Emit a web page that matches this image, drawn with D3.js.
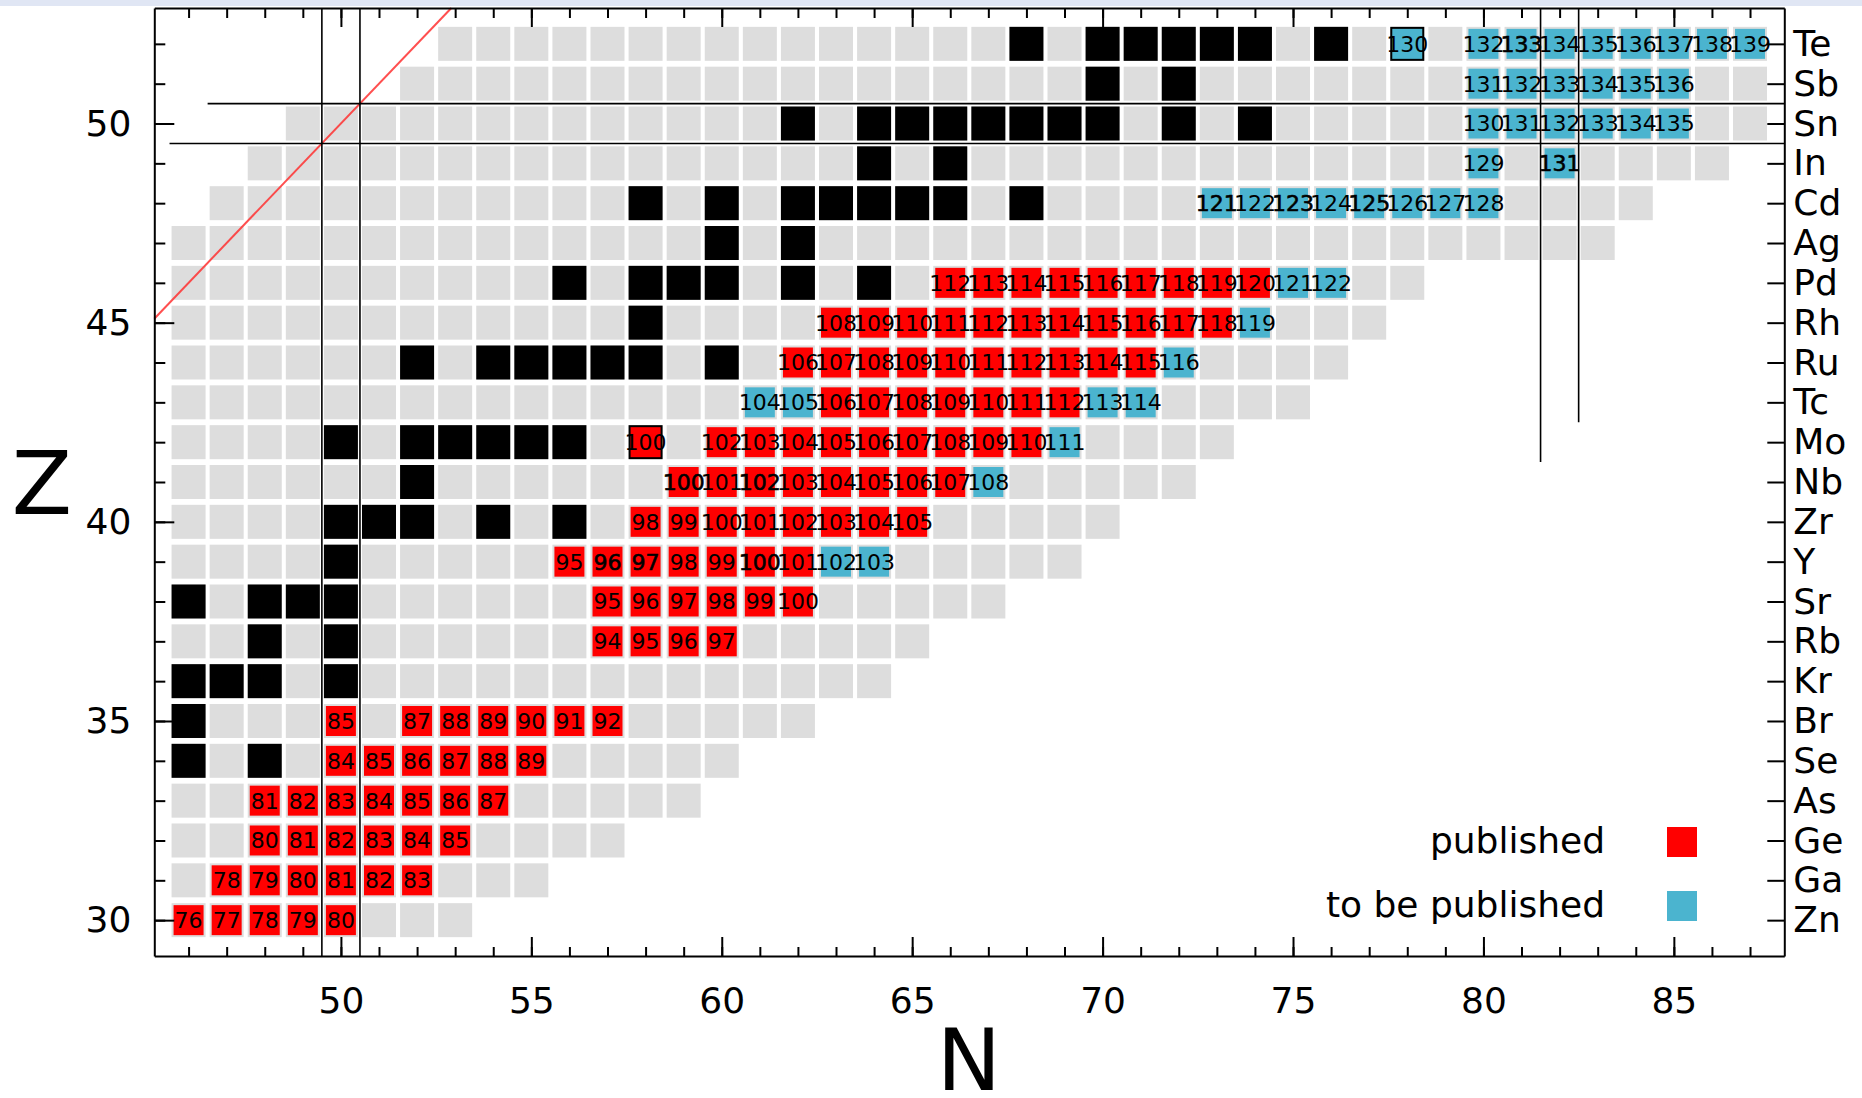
<!DOCTYPE html>
<html>
<head>
<meta charset="utf-8">
<title>Nuclide chart Z 30-52</title>
<script src="https://cdn.jsdelivr.net/npm/d3@7"></script>
<style>
  body { margin: 0; background: #fff; }
  svg { display: block; font-family: "DejaVu Sans", sans-serif; }
</style>
</head>
<body>
<svg></svg>
<script>
// element symbols for Z = 30 ... 52
const elements = ["Zn", "Ga", "Ge", "As", "Se", "Br", "Kr", "Rb", "Sr", "Y", "Zr",
  "Nb", "Mo", "Tc", "Ru", "Rh", "Pd", "Ag", "Cd", "In", "Sn", "Sb", "Te"];
const firstZ = 30;

// known nuclides: first and last N for every row
const firstN = [46, 46, 46, 46, 46, 46, 46, 46, 46, 46, 46, 46, 46, 46, 46, 46, 46, 46, 47, 48, 49, 52, 53];
const lastN = [53, 55, 57, 59, 60, 62, 64, 65, 67, 69, 70, 72, 73, 75, 76, 77, 78, 83, 84, 86, 87, 87, 87];

// stable isotopes [Z, mass numbers]
const stable = [
  [34, [80, 82]],
  [35, [81]],
  [36, [82, 83, 84, 86]],
  [37, [85, 87]],
  [38, [84, 86, 87, 88]],
  [39, [89]],
  [40, [90, 91, 92, 94, 96]],
  [41, [93]],
  [42, [92, 94, 95, 96, 97, 98, 100]],
  [44, [96, 98, 99, 100, 101, 102, 104]],
  [45, [103]],
  [46, [102, 104, 105, 106, 108, 110]],
  [47, [107, 109]],
  [48, [106, 108, 110, 111, 112, 113, 114, 116]],
  [49, [113, 115]],
  [50, [112, 114, 115, 116, 117, 118, 119, 120, 122, 124]],
  [51, [121, 123]],
  [52, [120, 122, 123, 124, 125, 126, 128, 130]],
];

// published [Z, mass numbers]
const published = [
  [30, [76, 77, 78, 79, 80]],
  [31, [78, 79, 80, 81, 82, 83]],
  [32, [80, 81, 82, 83, 84, 85]],
  [33, [81, 82, 83, 84, 85, 86, 87]],
  [34, [84, 85, 86, 87, 88, 89]],
  [35, [85, 87, 88, 89, 90, 91, 92]],
  [37, [94, 95, 96, 97]],
  [38, [95, 96, 97, 98, 99, 100]],
  [39, [95, 96, 97, 98, 99, 100, 101]],
  [40, [98, 99, 100, 101, 102, 103, 104, 105]],
  [41, [100, 101, 102, 103, 104, 105, 106, 107]],
  [42, [100, 102, 103, 104, 105, 106, 107, 108, 109, 110]],
  [43, [106, 107, 108, 109, 110, 111, 112]],
  [44, [106, 107, 108, 109, 110, 111, 112, 113, 114, 115]],
  [45, [108, 109, 110, 111, 112, 113, 114, 115, 116, 117, 118]],
  [46, [112, 113, 114, 115, 116, 117, 118, 119, 120]],
];

// to be published [Z, mass numbers]
const toBePublished = [
  [39, [102, 103]],
  [41, [108]],
  [42, [111]],
  [43, [104, 105, 113, 114]],
  [44, [116]],
  [45, [119]],
  [46, [121, 122]],
  [48, [121, 122, 123, 124, 125, 126, 127, 128]],
  [49, [129, 131]],
  [50, [130, 131, 132, 133, 134, 135]],
  [51, [131, 132, 133, 134, 135, 136]],
  [52, [130, 132, 133, 134, 135, 136, 137, 138, 139]],
];

// labels that are printed twice in the original (look heavier)
const doubledLabels = [[39, 96], [39, 97], [39, 100], [41, 100], [41, 102],
  [48, 121], [48, 123], [48, 125], [49, 131], [52, 133]];

const xTicks = [50, 55, 60, 65, 70, 75, 80, 85];
const yTicks = [30, 35, 40, 45, 50];
const legendLabels = ["published", "to be published"];
const legendColors = ["#ff0000", "#4bb4cf"];

// shell closures, [N1, Z1, N2, Z2]
const magicLines = [
  [49.5, 29.1, 49.5, 52.9],
  [50.5, 29.1, 50.5, 52.9],
  [45.5, 49.5, 87.9, 49.5],
  [46.5, 50.5, 87.9, 50.5],
  [81.5, 41.5, 81.5, 52.9],
  [82.5, 42.5, 82.5, 52.9],
];

const width = 1862;
const height = 1098;
const svg = d3.select("svg").attr("width", width).attr("height", height);

const x = d3.scaleLinear().domain([45.1, 87.9]).range([154.3, 1784.3]);
const y = d3.scaleLinear().domain([29.1, 52.9]).range([956, 8]);

const toCells = (list) =>
  list.flatMap(([z, masses]) => masses.map((a) => ({ z: z, a: a, n: a - z })));

const greyCells = elements.flatMap((el, i) =>
  d3.range(firstN[i], lastN[i] + 1).map((n) => ({ z: firstZ + i, n: n }))
);
const stableCells = toCells(stable);
const redCells = toCells(published);
const blueCells = toCells(toBePublished);

// screenshot band at the very top
svg.append("rect").attr("x", 0).attr("y", 0).attr("width", width).attr("height", 6).attr("fill", "#e0e6f4");

const drawSquares = (cells, size, color) => {
  svg
    .append("g")
    .selectAll("rect")
    .data(cells)
    .join("rect")
    .attr("x", (d) => x(d.n) - size / 2)
    .attr("y", (d) => y(d.z) - size / 2)
    .attr("width", size)
    .attr("height", size)
    .attr("fill", color);
};

drawSquares(greyCells, 34, "#dddddd");
drawSquares(stableCells, 34, "#000000");
drawSquares(redCells, 30, "#ff0000");
drawSquares(blueCells, 30, "#4bb4cf");

// N = Z line
svg
  .append("line")
  .attr("x1", x(45.1))
  .attr("y1", y(45.1))
  .attr("x2", x(52.9))
  .attr("y2", y(52.9))
  .attr("stroke", "#ff3030")
  .attr("stroke-opacity", 0.85)
  .attr("stroke-width", 2);

svg
  .append("g")
  .selectAll("line")
  .data(magicLines)
  .join("line")
  .attr("x1", (d) => x(d[0]))
  .attr("y1", (d) => y(d[1]))
  .attr("x2", (d) => x(d[2]))
  .attr("y2", (d) => y(d[3]))
  .attr("stroke", "#000")
  .attr("stroke-width", 1.6);

// mass number labels
const isDoubled = (d) => doubledLabels.some(([z, a]) => z === d.z && a === d.a);
svg
  .append("g")
  .selectAll("text")
  .data(redCells.concat(blueCells))
  .join("text")
  .attr("x", (d) => x(d.n))
  .attr("y", (d) => y(d.z))
  .attr("dy", "0.36em")
  .attr("text-anchor", "middle")
  .attr("font-size", 22)
  .attr("fill", "#000")
  .attr("stroke", (d) => (isDoubled(d) ? "#000" : "none"))
  .attr("stroke-width", 0.6)
  .text((d) => d.a);

// axes, ticks pointing inward
const styleAxis = (g, withDomain) => {
  g.attr("font-size", 36).attr("font-family", "DejaVu Sans");
  g.selectAll("line").attr("stroke-width", 2);
  g.select(".domain").attr("stroke-width", 2).attr("display", withDomain ? null : "none");
  g.selectAll("text").attr("fill", "#000");
};

const allN = d3.range(46, 88);
const allZ = d3.range(30, 53);

svg.append("g").attr("transform", "translate(0,956)")
  .call(d3.axisBottom(x).tickValues(allN).tickFormat("").tickSizeInner(-9).tickSizeOuter(0))
  .call(styleAxis, false);
svg.append("g").attr("transform", "translate(0,956)")
  .call(d3.axisBottom(x).tickValues(xTicks).tickSizeInner(-19).tickSizeOuter(0).tickPadding(31))
  .call(styleAxis, true);

svg.append("g").attr("transform", "translate(0,8)")
  .call(d3.axisTop(x).tickValues(allN).tickFormat("").tickSizeInner(-10).tickSizeOuter(0))
  .call(styleAxis, false);
svg.append("g").attr("transform", "translate(0,8)")
  .call(d3.axisTop(x).tickValues(xTicks).tickFormat("").tickSizeInner(-19).tickSizeOuter(0))
  .call(styleAxis, true);

svg.append("g").attr("transform", "translate(154.3,0)")
  .call(d3.axisLeft(y).tickValues(allZ).tickFormat("").tickSizeInner(-11).tickSizeOuter(0))
  .call(styleAxis, false);
svg.append("g").attr("transform", "translate(154.3,0)")
  .call(d3.axisLeft(y).tickValues(yTicks).tickSizeInner(-20).tickSizeOuter(0).tickPadding(23))
  .call(styleAxis, true);

svg.append("g").attr("transform", "translate(1784.3,0)")
  .call(d3.axisRight(y).tickValues(allZ).tickFormat((z) => elements[z - firstZ]).tickSizeInner(-17).tickSizeOuter(0).tickPadding(9))
  .call(styleAxis, true);

// axis titles
svg.append("text").attr("x", 42).attr("y", 482).attr("dy", "0.36em")
  .attr("text-anchor", "middle").attr("font-size", 88).text("Z");
svg.append("text").attr("x", 969).attr("y", 1090)
  .attr("text-anchor", "middle").attr("font-size", 86).text("N");

// legend
const legend = svg.append("g").selectAll("g").data(legendLabels).join("g");
legend.append("text")
  .attr("x", 1605)
  .attr("y", (d, i) => 853 + i * 64)
  .attr("text-anchor", "end")
  .attr("font-size", 36)
  .text((d) => d);
legend.append("rect")
  .attr("x", 1667)
  .attr("y", (d, i) => 827 + i * 64)
  .attr("width", 30)
  .attr("height", 30)
  .attr("fill", (d, i) => legendColors[i]);
</script>
</body>
</html>
